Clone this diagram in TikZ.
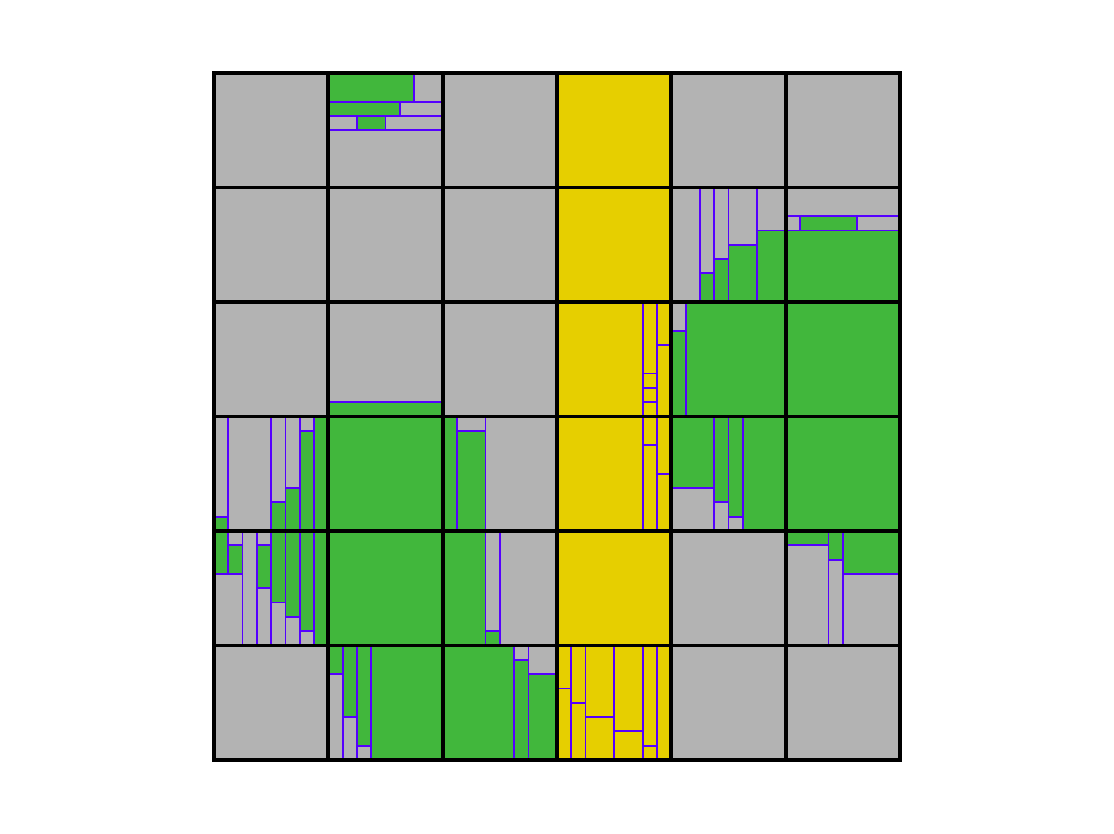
\documentclass[tikz,border=0pt]{standalone}
\definecolor{cgrey}{RGB}{179,179,179}
\definecolor{cgreen}{RGB}{65,183,60}
\definecolor{cyellow}{RGB}{230,207,0}
\definecolor{cpurple}{RGB}{85,0,255}
\tikzset{
  greenbox/.style={fill=cgreen},
  edgeline/.style={draw=cpurple, line width=1.8pt},
  gridline/.style={draw=black, line width=3.9pt, line cap=rect}
}
\begin{document}
\begin{tikzpicture}
\fill[white] (0,0) rectangle (1114pt,-834pt);
\useasboundingbox (0,0) rectangle (1114pt,-834pt);
\begin{scope}[shift={(214pt,-73pt)}, x=14.2917pt, y=-14.3125pt]
% base fills
\fill[cgrey] (0,0) rectangle (48,48);
\fill[cyellow] (24,0) rectangle (32,48);
% green regions
\foreach \a/\b/\c/\d in {
  8/0/14/2, 8/2/13/3, 10/3/12/4,
  34/14/35/16, 35/13/36/16, 36/12/38/16, 38/11/40/16,
  41/10/45/11, 40/11/48/16,
  32/18/33/24, 33/16/40/24, 40/16/48/24,
  8/23/16/24,
  0/31/1/32, 4/30/5/32, 5/29/6/32, 6/25/7/32, 7/24/8/32,
  8/24/16/40,
  16/24/17/32, 17/25/19/32,
  32/24/35/29, 35/24/36/30, 36/24/37/31, 37/24/40/32,
  40/24/48/32,
  0/32/1/35, 1/33/2/35, 3/33/4/36, 4/32/5/37, 5/32/6/38, 6/32/7/39, 7/32/8/40,
  16/32/19/40, 19/39/20/40,
  40/32/43/33, 43/32/44/34, 44/32/48/35,
  8/40/9/42, 9/40/10/45, 10/40/11/47, 11/40/16/48,
  16/40/21/48, 21/41/22/48, 22/42/24/48}
  \fill[greenbox] (\a,\b) rectangle (\c,\d);
% purple subdivision lines
\foreach \a/\b/\c/\d in {
  14/0/14/2, 8/2/16/2, 13/2/13/3.1, 8/3/16/3, 10/3/10/4, 12/3/12/4, 8/4/16/4,
  34/8/34/16, 35/8/35/16, 36/8/36/16, 38/8/38/16,
  34/14/35/14, 35/13/36/13, 36/12/38/12, 38/11/40/11,
  40/10/48/10, 41/10/41/11, 45/10/45/11, 40/11/48/11,
  30/16/30/24, 31/16/31/24, 31/19/32/19, 30/21/31/21, 30/22/31/22, 30/23/31/23,
  32/18/33/18, 33/16/33/24,
  8/23/16/23,
  30/24/30/32, 31/24/31/32, 30/26/31/26, 31/28/32/28,
  32/29/35/29, 35/24/35/32, 36/24/36/32, 37/24/37/32, 35/30/36/30, 36/31/37/31,
  40/33/43/33, 43/32/43/40, 44/32/44/40, 43/34/44/34, 44/35/48/35,
  1/24/1/32, 0/31/1/31, 4/24/4/32, 5/24/5/32, 6/24/6/32, 7/24/7/32,
  4/30/5/30, 5/29/6/29, 6/25/7/25,
  1/32/1/35, 0/35/2/35, 2/32/2/40, 3/32/3/40, 4/32/4/40, 5/32/5/40, 6/32/6/40, 7/32/7/40,
  1/33/2/33, 3/33/4/33, 3/36/4/36, 4/37/5/37, 5/38/6.1/38, 6/39/7/39,
  17/24/17/32, 19/24/19/32, 17/25/19/25,
  19/32/19/40, 20/32/20/40, 19/39/20/39,
  9/40/9/48, 10/40/10/48, 11/40/11/48, 8/42/9.1/42, 9/45/10/45, 10/47/11/47,
  21/40/21/48, 22/40/22/48, 21/41/22/41, 22/42/24/42,
  25/40/25/48, 26/40/26/48, 28/40/28/48, 30/40/30/48, 31/40/31/48,
  24/43/25/43, 25/44/26/44, 26/45/28/45, 28/46/30/46, 30/47/31/47}
  \draw[edgeline] (\a,\b) -- (\c,\d);
% black cell grid
\foreach \k in {0,8,...,48} {
  \draw[gridline] (\k,0) -- (\k,48);
  \draw[gridline] (0,\k) -- (48,\k);
}
\end{scope}
\end{tikzpicture}
\end{document}
